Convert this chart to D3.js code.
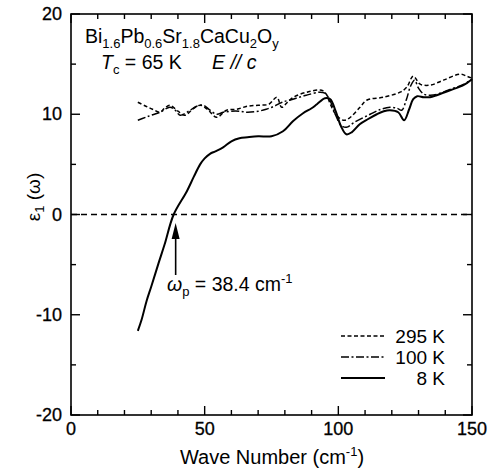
<!DOCTYPE html>
<html><head><meta charset="utf-8">
<script src="https://cdn.jsdelivr.net/npm/d3@7"></script>
<style>body{margin:0;background:#fff}text{font-family:"Liberation Sans",Arial,sans-serif;fill:#000}</style>
</head><body><svg id="c" width="489" height="472"></svg>
<script>
const xTicks=[0,50,100,150];
const yTicks=[-20,-10,0,10,20];
const x8K=[25,26.4,28.3,30,32.7,35,38.4,43.3,46,48.3,50,52,54,56.9,60,63,66,70,75,79.3,83,86.8,90,92,95,97,99,101,103,105,108,111,114.4,117,119.3,122.4,124.6,126.5,128,129.5,132,134.3,136.8,141.8,146.8,150];
const y8K=[-11.6,-10.5,-8.6,-7.2,-4.9,-3.0,0,2.3,3.8,5.0,5.6,6.05,6.3,6.7,7.3,7.6,7.7,7.8,7.8,8.3,9.3,10.1,10.6,11.0,11.6,11.5,10.3,8.8,8.0,8.2,9.0,9.5,10.0,10.3,10.4,10.2,9.4,10.5,11.5,11.8,11.7,11.7,11.9,12.4,12.9,13.5];
const x100K=[25,28,30,33.3,37,39,40.8,44,47,49.5,52,54.5,57,60,63,66,70,73,76,79,83,88,93,95,97,99,101,103,106,111.9,116,119.3,122,123.7,125.5,127,128.5,130,132,134.3,137,142,147,150];
const y100K=[9.4,9.7,9.9,10.2,10.7,10.4,9.9,10.3,10.8,10.9,10.4,10.0,10.2,10.3,10.3,10.2,10.3,10.5,10.8,11.2,11.5,11.9,12.2,12.1,11.3,9.9,8.9,8.7,9.2,10.0,10.5,10.7,10.6,10.4,11.5,12.8,13.4,12.6,12.0,11.9,12.0,12.5,13.0,13.5];
const x295K=[25,28,30.5,33.3,35,37,40,42.6,45.5,48.3,51,54.5,58.2,62,66,70,74,77,78.8,81,83.2,88.2,93.8,95.5,97,99,101.9,104,108.1,110.6,116.8,123.1,125.6,128,130.6,134.3,139.3,145.5,148,150];
const y295K=[11.2,10.8,10.5,10.2,10.6,10.9,10.3,9.9,10.5,10.9,10.5,9.7,10.4,10.5,10.8,10.9,11.0,11.7,10.7,11.2,11.7,12.2,12.4,12.0,11.0,10.0,9.4,9.6,10.7,11.4,11.7,12.2,12.7,13.8,13.0,12.9,13.4,14.0,13.8,13.6];
const seriesNames=["295 K","100 K","8 K"];
const plasmaX=38.4;

const svg=d3.select("#c");
const L=71,R=472,T=14,B=415;
const x=d3.scaleLinear().domain([0,150]).range([L,R]);
const y=d3.scaleLinear().domain([-20,20]).range([B,T]);

svg.append("rect").attr("x",L).attr("y",T).attr("width",R-L).attr("height",B-T).attr("fill","none").attr("stroke","#000").attr("stroke-width",1.6);
const g=svg.append("g").attr("stroke","#000").attr("stroke-width",1.4);
d3.range(0,151,10).forEach(v=>{const len=v%50===0?9:5;
  g.append("line").attr("x1",x(v)).attr("x2",x(v)).attr("y1",B).attr("y2",B-len);
  g.append("line").attr("x1",x(v)).attr("x2",x(v)).attr("y1",T).attr("y2",T+len);});
d3.range(-20,21,5).forEach(v=>{const len=v%10===0?9:5;
  g.append("line").attr("y1",y(v)).attr("y2",y(v)).attr("x1",L).attr("x2",L+len);
  g.append("line").attr("y1",y(v)).attr("y2",y(v)).attr("x1",R).attr("x2",R-len);});
xTicks.forEach(v=>svg.append("text").attr("x",x(v)).attr("y",B+20).attr("text-anchor","middle").attr("font-size",18).attr("stroke","#000").attr("stroke-width",0.3).text(v));
yTicks.forEach(v=>svg.append("text").attr("x",L-9).attr("y",y(v)+6).attr("text-anchor","end").attr("font-size",18).attr("stroke","#000").attr("stroke-width",0.3).text(v));

const xt=svg.append("text").attr("x",272).attr("y",464).attr("text-anchor","middle").attr("font-size",20);
xt.append("tspan").text("Wave Number (cm");
xt.append("tspan").attr("font-size",13).attr("dy",-8).text("-1");
xt.append("tspan").attr("dy",8).text(")");
const yt=svg.append("text").attr("transform","translate(40,197) rotate(-90)").attr("text-anchor","middle").attr("font-size",19);
yt.append("tspan").text("ε");
yt.append("tspan").attr("font-size",13).attr("dy",4).text("1");
yt.append("tspan").attr("dy",-4).text(" (ω)");

svg.append("line").attr("x1",L).attr("x2",R).attr("y1",y(0)).attr("y2",y(0)).attr("stroke","#000").attr("stroke-width",1.4).attr("stroke-dasharray","6,4");

const line=d3.line().x(d=>x(d[0])).y(d=>y(d[1])).curve(d3.curveCatmullRom.alpha(0.5));
const styles=[{xs:x295K,ys:y295K,dash:"4,2.5",w:1.5},{xs:x100K,ys:y100K,dash:"8,2.5,2,2.5",w:1.5},{xs:x8K,ys:y8K,dash:null,w:2}];
styles.forEach(s=>{svg.append("path").datum(s.xs.map((v,i)=>[v,s.ys[i]])).attr("d",line).attr("fill","none").attr("stroke","#000").attr("stroke-width",s.w).attr("stroke-dasharray",s.dash);});

styles.forEach((s,i)=>{const by=343+i*21;
  svg.append("line").attr("x1",341).attr("x2",385).attr("y1",by-7).attr("y2",by-7).attr("stroke","#000").attr("stroke-width",s.w).attr("stroke-dasharray",s.dash);
  svg.append("text").attr("x",445).attr("y",by).attr("text-anchor","end").attr("font-size",19).text(seriesNames[i]);});

const t1=svg.append("text").attr("x",85).attr("y",43).attr("font-size",19.5);
[["Bi",0],["1.6",1],["Pb",0],["0.6",1],["Sr",0],["1.8",1],["CaCu",0],["2",1],["O",0],["y",1]].forEach((p,i,arr)=>{
  const prev=i>0?arr[i-1][1]:0; const dy=(p[1]-prev)*5;
  t1.append("tspan").attr("font-size",p[1]?13:19.5).attr("dy",dy).text(p[0]);});
const t2=svg.append("text").attr("x",101).attr("y",69).attr("font-size",19.5);
t2.append("tspan").attr("font-style","italic").text("T");
t2.append("tspan").attr("font-size",13).attr("dy",5).text("c");
t2.append("tspan").attr("dy",-5).text(" = 65 K");
const t3=svg.append("text").attr("x",212).attr("y",69).attr("font-size",19.5);
t3.append("tspan").attr("font-style","italic").text("E // c");

const ax=x(plasmaX)+2;
svg.append("line").attr("x1",ax).attr("x2",ax).attr("y1",275).attr("y2",236).attr("stroke","#000").attr("stroke-width",1.6);
svg.append("path").attr("d",`M${ax},223 L${ax-4},239 L${ax+4},239 Z`).attr("fill","#000");
const t4=svg.append("text").attr("x",167).attr("y",291).attr("font-size",19.5);
t4.append("tspan").attr("font-style","italic").text("ω");
t4.append("tspan").attr("font-size",13).attr("dy",5).text("p");
t4.append("tspan").attr("dy",-5).text(" = "+plasmaX+" cm");
t4.append("tspan").attr("font-size",13).attr("dy",-8).text("-1");
</script></body></html>
